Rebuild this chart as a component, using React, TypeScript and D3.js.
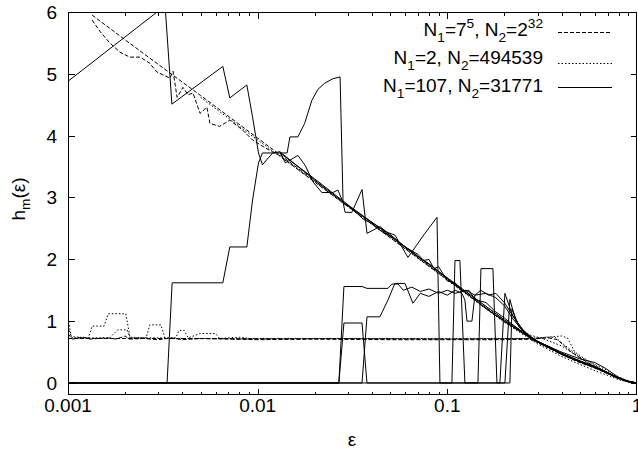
import React from 'react';
import * as d3 from 'd3';

type Pt = [number, number];

// ---------- axes / labels ----------
const xDomain: [number, number] = [0.001, 1];
const yDomain: [number, number] = [-0.2, 6];
const xMajorTicks = [0.001, 0.01, 0.1, 1];
const xMajorLabels = ['0.001', '0.01', '0.1', '1'];
const yMajorTicks = [0, 1, 2, 3, 4, 5, 6];
const yMajorLabels = ['0', '1', '2', '3', '4', '5', '6'];

type Seg = { t: string; k: 'n' | 'sub' | 'sup' };
const legendEntries: Seg[][] = [
  [{ t: 'N', k: 'n' }, { t: '1', k: 'sub' }, { t: '=7', k: 'n' }, { t: '5', k: 'sup' }, { t: ', N', k: 'n' }, { t: '2', k: 'sub' }, { t: '=2', k: 'n' }, { t: '32', k: 'sup' }],
  [{ t: 'N', k: 'n' }, { t: '1', k: 'sub' }, { t: '=2, N', k: 'n' }, { t: '2', k: 'sub' }, { t: '=494539', k: 'n' }],
  [{ t: 'N', k: 'n' }, { t: '1', k: 'sub' }, { t: '=107, N', k: 'n' }, { t: '2', k: 'sub' }, { t: '=31771', k: 'n' }],
];
const legendStyles = ['dashed', 'dotted', 'solid'];

// ---------- series N1=7^5, N2=2^32 (dashed) ----------
const dashedMain: Pt[] = [[0.00134,5.95],[0.002,5.55],[0.003,5.15],[0.005,4.65],[0.01,3.96],[0.02,3.27],[0.03,2.87],[0.05,2.37],[0.1,1.68],[0.15,1.28],[0.2,1.0],[0.25,0.8],[0.3,0.66],[0.35,0.56],[0.4,0.47],[0.5,0.34],[0.6,0.25],[0.7,0.16],[0.8,0.075],[0.9,0.022],[1,0]];
const dashedLower: Pt[] = [[0.00134,5.87],[0.00148,5.68],[0.00166,5.5],[0.00188,5.35],[0.00212,5.27],[0.0024,5.27],[0.0027,5.17],[0.00294,5.03],[0.00345,4.93],[0.00358,5.04],[0.00376,4.62],[0.00404,4.78],[0.0043,4.66],[0.00456,4.69],[0.00497,4.36],[0.0054,4.46],[0.0056,4.2],[0.0063,4.15],[0.00713,4.25],[0.00834,4.09],[0.0094,3.93],[0.011,3.8],[0.013,3.68],[0.02,3.25],[0.03,2.85],[0.05,2.35],[0.1,1.67],[0.2,0.99],[0.3,0.65],[0.4,0.46],[0.5,0.33],[0.6,0.24],[0.7,0.15],[0.8,0.07],[0.9,0.02],[1,0]];
const dashedFlat: Pt[] = [[0.001,0.8],[0.00105,0.71],[0.0012,0.74],[0.0013,0.71],[0.0016,0.73],[0.0018,0.71],[0.002,0.76],[0.0021,0.71],[0.0025,0.72],[0.003,0.7],[0.0035,0.73],[0.004,0.7],[0.005,0.72],[0.01,0.7],[0.02,0.71],[0.05,0.7],[0.1,0.7],[0.2,0.7],[0.27,0.71],[0.3,0.66],[0.35,0.56],[0.4,0.46],[0.5,0.34],[0.6,0.25],[0.7,0.16],[0.8,0.08],[0.9,0.02],[1,0]];
const dashedFlatBump: Pt[] = [[0.001,0.72],[0.002,0.72],[0.1,0.71],[0.28,0.71],[0.34,0.73],[0.38,0.7],[0.45,0.5],[0.55,0.33],[0.65,0.2],[0.75,0.11],[0.85,0.04],[1,0]];

// ---------- series N1=2, N2=494539 (dotted) ----------
const dottedFlatA: Pt[] = [[0.001,1.05],[0.00104,0.75],[0.00128,0.73],[0.00134,0.92],[0.00155,0.92],[0.00163,1.12],[0.00202,1.12],[0.00212,0.74],[0.00258,0.73],[0.0027,0.94],[0.00309,0.94],[0.00325,0.72],[0.005,0.72],[0.01,0.71],[0.03,0.72],[0.1,0.71],[0.27,0.72],[0.33,0.74],[0.37,0.74],[0.42,0.6],[0.5,0.42],[0.6,0.3],[0.7,0.2],[0.8,0.1],[0.9,0.03],[1,0]];
const dottedFlatB: Pt[] = [[0.001,0.9],[0.00105,0.73],[0.00166,0.73],[0.00183,0.86],[0.00205,0.86],[0.00212,0.73],[0.0037,0.73],[0.00385,0.85],[0.0041,0.85],[0.0043,0.73],[0.005,0.8],[0.006,0.8],[0.0063,0.72],[0.008,0.74],[0.009,0.72],[0.02,0.72],[0.28,0.72],[0.4,0.76],[0.43,0.73],[0.47,0.5],[0.55,0.36],[0.65,0.22],[0.75,0.12],[0.85,0.05],[1,0]];
const dottedMain: Pt[] = [[0.005,4.62],[0.01,3.93],[0.02,3.25],[0.05,2.35],[0.1,1.66],[0.2,0.98],[0.3,0.63],[0.4,0.43],[0.5,0.3],[0.6,0.2],[0.7,0.12],[0.8,0.055],[0.9,0.015],[1,0]];
const dottedMainBump: Pt[] = [[0.05,2.38],[0.1,1.7],[0.2,1.02],[0.27,0.78],[0.33,0.7],[0.4,0.6],[0.46,0.48],[0.53,0.36],[0.6,0.26],[0.7,0.15],[0.8,0.07],[0.9,0.02],[1,0]];

// ---------- series N1=107, N2=31771 (solid) ----------
const solidA: Pt[] = [[0.001,4.88],[0.00325,6.1],[0.00353,4.51],[0.00655,5.12],[0.00713,4.61],[0.00877,4.82],[0.0094,4.3],[0.0101,3.72],[0.0106,3.53],[0.012,3.72],[0.0131,3.74],[0.014,3.56],[0.0163,3.68],[0.0178,3.52],[0.0196,3.25],[0.0218,3.08],[0.0249,3.08],[0.0265,3.12],[0.0282,2.92],[0.0289,2.76],[0.0314,2.76],[0.0355,3.13],[0.0377,2.42],[0.0405,2.47],[0.0441,2.53],[0.048,2.44],[0.053,2.39],[0.0549,2.31],[0.062,2.03],[0.0762,2.42],[0.0882,2.68],[0.0914,0],[0.1057,0],[0.1097,1.98],[0.1165,1.98],[0.1238,0],[0.1893,0],[0.2012,1.45],[0.22,1.1],[0.25,0.85],[0.28,0.72],[0.3,0.66],[0.35,0.56],[0.4,0.47],[0.5,0.35],[0.6,0.26],[0.7,0.17],[0.8,0.08],[0.9,0.025],[1,0]];
const solidB: Pt[] = [[0.001,0],[0.00333,0],[0.00354,1.62],[0.00655,1.62],[0.00713,2.2],[0.00877,2.2],[0.0094,2.96],[0.0101,3.56],[0.0106,3.72],[0.0143,3.72],[0.0148,3.98],[0.0163,3.98],[0.0177,4.2],[0.0193,4.57],[0.0208,4.75],[0.0226,4.85],[0.0249,4.92],[0.0272,4.95],[0.0282,2.92],[0.0314,2.82],[0.036,2.65],[0.04,2.58],[0.045,2.45],[0.05,2.38],[0.06,2.2],[0.07,2.04],[0.08,1.93],[0.1,1.69],[0.13,1.42],[0.16,1.2],[0.2,1.0],[0.25,0.81],[0.3,0.67],[0.35,0.57],[0.4,0.48],[0.5,0.35],[0.6,0.26],[0.7,0.17],[0.8,0.08],[0.9,0.025],[1,0]];
const solidC: Pt[] = [[0.001,0],[0.0268,0],[0.0285,1.56],[0.0355,1.56],[0.0377,1.53],[0.0486,1.53],[0.051,1.6],[0.055,1.6],[0.0586,1.5],[0.065,1.55],[0.072,1.48],[0.08,1.52],[0.09,1.45],[0.1,1.5],[0.11,1.45],[0.125,1.5],[0.14,1.42],[0.16,1.45],[0.18,1.38],[0.2,1.25],[0.22,1.05],[0.25,0.84],[0.28,0.72],[0.3,0.66],[0.35,0.56],[0.4,0.47],[0.5,0.34],[0.6,0.25],[0.7,0.16],[0.8,0.075],[0.9,0.022],[1,0]];
const solidD: Pt[] = [[0.001,0],[0.0268,0],[0.0285,0.97],[0.0355,0.97],[0.0377,0],[0.2137,0],[0.219,1.2],[0.24,0.9],[0.26,0.8],[0.3,0.67],[0.35,0.57],[0.4,0.48],[0.5,0.36],[0.6,0.27],[0.7,0.17],[0.8,0.08],[0.9,0.025],[1,0]];
const solidE: Pt[] = [[0.001,0],[0.0355,0],[0.0377,1.07],[0.0441,1.07],[0.0486,1.34],[0.0529,1.61],[0.0598,1.61],[0.0659,1.29],[0.072,1.45],[0.08,1.4],[0.09,1.48],[0.1,1.42],[0.11,1.5],[0.1194,1.45],[0.1238,1.34],[0.1269,1.0],[0.1348,1.0],[0.1398,1.42],[0.15,1.5],[0.165,1.42],[0.18,1.45],[0.2,1.3],[0.22,1.1],[0.25,0.86],[0.28,0.73],[0.3,0.67],[0.4,0.5],[0.5,0.39],[0.6,0.33],[0.68,0.24],[0.8,0.09],[0.9,0.03],[1,0]];
const solidF: Pt[] = [[0.001,0],[0.145,0],[0.1504,1.85],[0.1739,1.85],[0.1826,0],[0.2012,0],[0.2137,1.35],[0.23,1.0],[0.26,0.8],[0.3,0.67],[0.35,0.57],[0.4,0.47],[0.5,0.35],[0.6,0.26],[0.7,0.16],[0.8,0.075],[0.9,0.022],[1,0]];
const solidG: Pt[] = [[0.0131,3.74],[0.02,3.28],[0.03,2.86],[0.04,2.6],[0.05,2.4],[0.06,2.2],[0.07,2.08],[0.075,1.98],[0.08,2.0],[0.085,1.85],[0.09,1.88],[0.1,1.65],[0.11,1.62],[0.12,1.48],[0.13,1.5],[0.14,1.35],[0.16,1.3],[0.18,1.15],[0.2,1.05],[0.22,0.95],[0.25,0.82],[0.3,0.66],[0.35,0.56],[0.4,0.47],[0.5,0.34],[0.6,0.25],[0.7,0.16],[0.8,0.075],[0.9,0.022],[1,0]];
const solidH: Pt[] = [[0.0131,3.72],[0.02,3.3],[0.03,2.88],[0.05,2.38],[0.1,1.7],[0.2,1.02],[0.25,0.82],[0.3,0.67],[0.35,0.57],[0.4,0.48],[0.5,0.35],[0.6,0.26],[0.7,0.17],[0.8,0.08],[0.9,0.025],[1,0]];

const dashedCurves = [dashedMain, dashedLower, dashedFlat, dashedFlatBump];
const dottedCurves = [dottedFlatA, dottedFlatB, dottedMain, dottedMainBump];
const solidCurves = [solidA, solidB, solidC, solidD, solidE, solidF, solidG, solidH];

// ---------- layout ----------
const W = 638, H = 457;
const PL = 68, PR = 637, PT = 12, PB = 395;
const FONT = '"Liberation Sans", Arial, Helvetica, sans-serif';
const FS = 19;
const DASH: Record<string, string | undefined> = { dashed: '4,2', dotted: '1.5,2', solid: undefined };

function RichText({ segs, x, y, anchor, size }: { segs: Seg[]; x: number; y: number; anchor: string; size: number }) {
  let cur = 0;
  const spans = segs.map((s, i) => {
    const target = s.k === 'sub' ? size * 0.3 : s.k === 'sup' ? -size * 0.42 : 0;
    const dy = target - cur;
    cur = target;
    return (
      <tspan key={i} dy={dy} fontSize={s.k === 'n' ? size : size * 0.72}>{s.t}</tspan>
    );
  });
  return <text x={x} y={y} textAnchor={anchor as any} fontSize={size}>{spans}</text>;
}

export default function App() {
  const x = d3.scaleLog().domain(xDomain).range([PL, PR]);
  const y = d3.scaleLinear().domain(yDomain).range([PB + 0.35, PT]);
  const line = d3.line<Pt>().x(d => x(d[0])).y(d => y(d[1]));
  const minor = x.ticks().filter(t => !xMajorTicks.some(m => Math.abs(m - t) < 1e-12));

  const L = PL + 0.5, R = PR - 0.5, T = PT + 0.5, B = PB - 0.5;
  const legendRows = [30, 58, 86];
  const legendSampleY = [32, 63, 87];

  return (
    <svg width={W} height={H} style={{ position: 'absolute', left: 0, top: 0, background: '#fff' }} fontFamily={FONT}>
      <defs>
        <clipPath id="plot">
          <rect x={PL} y={PT} width={PR - PL} height={PB - PT} />
        </clipPath>
      </defs>
      <rect x={0} y={0} width={W} height={H} fill="#fff" />
      {/* curves */}
      <g clipPath="url(#plot)" fill="none" stroke="#000" strokeWidth={1}>
        {solidCurves.map((c, i) => <path key={'s' + i} d={line(c) || ''} />)}
        {dashedCurves.map((c, i) => <path key={'d' + i} d={line(c) || ''} strokeDasharray={DASH.dashed} />)}
        {dottedCurves.map((c, i) => <path key={'o' + i} d={line(c) || ''} strokeDasharray={DASH.dotted} />)}
      </g>
      {/* ticks */}
      <g stroke="#000" strokeWidth={1} shapeRendering="crispEdges">
        {xMajorTicks.map((t, i) => {
          const px = Math.round(x(t)) + 0.5 - (t === 1 ? 1 : 0);
          return (
            <g key={'xm' + i}>
              <line x1={px} x2={px} y1={B} y2={B - 6} />
              <line x1={px} x2={px} y1={T} y2={T + 6} />
            </g>
          );
        })}
        {minor.map((t, i) => {
          const px = Math.round(x(t)) + 0.5;
          return (
            <g key={'xn' + i}>
              <line x1={px} x2={px} y1={B} y2={B - 3} />
              <line x1={px} x2={px} y1={T} y2={T + 3} />
            </g>
          );
        })}
        {yMajorTicks.map((t, i) => {
          const py = Math.round(y(t)) + 0.5;
          return (
            <g key={'ym' + i}>
              <line x1={L} x2={L + 6} y1={py} y2={py} />
              <line x1={R} x2={R - 6} y1={py} y2={py} />
            </g>
          );
        })}
        <rect x={L} y={T} width={R - L} height={B - T} fill="none" />
      </g>
      {/* tick labels */}
      <g fontSize={FS} fill="#000">
        {xMajorTicks.map((t, i) => (
          <text key={'xl' + i} x={x(t)} y={412} textAnchor="middle">{xMajorLabels[i]}</text>
        ))}
        {yMajorTicks.map((t, i) => (
          <text key={'yl' + i} x={57} y={y(t) + 7} textAnchor="end">{yMajorLabels[i]}</text>
        ))}
        <text x={352} y={446} textAnchor="middle">ε</text>
        <g transform="translate(25,199) rotate(-90)">
          <text x={0} y={0} textAnchor="middle">
            <tspan>h</tspan>
            <tspan dy={5} fontSize={FS * 0.72}>m</tspan>
            <tspan dy={-5}>(ε)</tspan>
          </text>
        </g>
      </g>
      {/* legend */}
      <g fill="#000">
        {legendEntries.map((segs, i) => (
          <g key={'lg' + i}>
            <RichText segs={segs} x={543} y={legendRows[i] + 6} anchor="end" size={FS} />
            <line x1={558} x2={612} y1={legendSampleY[i] + 0.5} y2={legendSampleY[i] + 0.5} stroke="#000" strokeWidth={1} strokeDasharray={DASH[legendStyles[i]]} />
          </g>
        ))}
      </g>
    </svg>
  );
}
